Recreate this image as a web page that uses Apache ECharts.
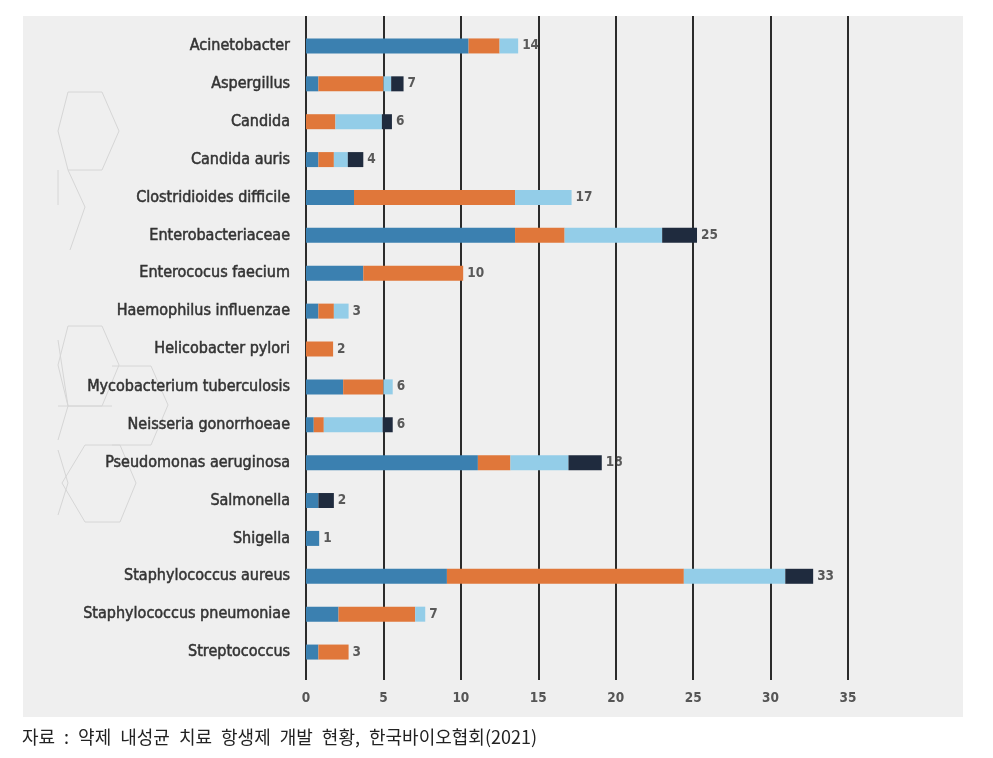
<!DOCTYPE html>
<html>
<head>
<meta charset="utf-8">
<script src="https://cdn.jsdelivr.net/npm/echarts@6/dist/echarts.min.js"></script>
<style>
html,body{margin:0;padding:0;background:#fff;}
#chart{width:993px;height:758px;}
</style>
</head>
<body>
<div id="chart"></div>
<script>
const categories = ['Acinetobacter','Aspergillus','Candida','Candida auris','Clostridioides difficile','Enterobacteriaceae','Enterococus faecium','Haemophilus influenzae','Helicobacter pylori','Mycobacterium tuberculosis','Neisseria gonorrhoeae','Pseudomonas aeruginosa','Salmonella','Shigella','Staphylococcus aureus','Staphylococcus pneumoniae','Streptococcus'];
const seriesBlue   = [10.5, 0.8, 0,    0.8, 3.1,  13.5, 3.7,  0.8, 0,    2.4, 0.5,  11.1, 0.8, 0.85, 9.1,  2.1,  0.8];
const seriesOrange = [2.0,  4.2, 1.9,  1.0, 10.4, 3.2,  6.45, 1.0, 1.75, 2.6, 0.65, 2.1,  0,   0,    15.3, 4.95, 1.95];
const seriesLight  = [1.2,  0.5, 3.0,  0.9, 3.65, 6.3,  0,    0.95,0,    0.6, 3.8,  3.75, 0,   0,    6.55, 0.65, 0];
const seriesDark   = [0,    0.8, 0.65, 1.0, 0,    2.25, 0,    0,   0,    0,   0.65, 2.15, 1.0, 0,    1.8,  0,    0];
const totals       = [14, 7, 6, 4, 17, 25, 10, 3, 2, 6, 6, 18, 2, 1, 33, 7, 3];
const xTicks = [0, 5, 10, 15, 20, 25, 30, 35];

const colors = ['#3b80b0', '#e0773a', '#93cde8', '#1f2b3e'];
const barEnds = categories.map((c, i) => [seriesBlue[i] + seriesOrange[i] + seriesLight[i] + seriesDark[i], i]);

// faint decorative hexagon outlines in the background
const hexLines = [
  [[68,92],[102,92],[119,131],[102,170],[68,170],[58,131],[68,92]],
  [[68,170],[85,207],[70,250]],
  [[58,170],[58,205]],
  [[68,326],[102,326],[119,365],[102,406],[68,406],[58,365],[68,326]],
  [[112,366],[151,366],[168,405],[151,445],[112,445]],
  [[85,445],[120,445],[136,483],[120,522],[85,522],[62,483],[85,445]],
  [[58,340],[68,406],[58,440]],
  [[58,450],[68,483],[58,515]],
  [[58,406],[112,406]]
];

const chart = echarts.init(document.getElementById('chart'), null, {renderer: 'canvas'});
const labelFont = "'DejaVu Sans Condensed', 'DejaVu Sans', sans-serif";

const mkBar = (name, data, color) => ({
  name, type: 'bar', stack: 'total', xAxisIndex: 0, yAxisIndex: 0,
  data, barWidth: 15, itemStyle: {color}, emphasis: {disabled: true}, z: 3
});

const footer = '자료 : 약제 내성균 치료 항생제 개발 현황, 한국바이오협회(2021)'.replace(/ /g, '\u2002');

chart.setOption({
  animation: false,
  graphic: {
    elements: [
      {type: 'rect', z: -100, shape: {x: 23, y: 16, width: 940, height: 701}, style: {fill: '#efefef'}, silent: true},
      {type: 'group', z: -90, silent: true, children: hexLines.map(pts => ({
        type: 'polyline', shape: {points: pts},
        style: {fill: 'none', stroke: '#d6d6d6', lineWidth: 1}
      }))},
      {type: 'text', left: 22, top: 728, style: {text: footer, font: "18px 'Noto Sans CJK KR'", fill: '#222'}}
    ]
  },
  grid: [
    {left: 306, width: 542, top: 27, height: 644},
    {left: 306, width: 542, top: 16, height: 664}
  ],
  xAxis: [
    {gridIndex: 0, type: 'value', min: 0, max: 35, show: false},
    {gridIndex: 1, type: 'value', min: 0, max: 35, interval: 5,
     axisLine: {show: false}, axisTick: {show: false},
     splitLine: {show: true, lineStyle: {color: '#2b2b2b', width: 2}},
     axisLabel: {margin: 11, color: '#555', fontSize: 13.5, fontFamily: labelFont, fontWeight: 'bold',
       formatter: v => xTicks.includes(v) ? String(v) : ''}}
  ],
  yAxis: [
    {gridIndex: 0, type: 'category', data: categories, inverse: true,
     axisLine: {show: false}, axisTick: {show: false}, splitLine: {show: false},
     axisLabel: {margin: 16, color: '#333', fontSize: 16, fontFamily: labelFont,
       textBorderColor: '#333', textBorderWidth: 0.5}},
    {gridIndex: 1, type: 'value', show: false}
  ],
  series: [
    mkBar('blue', seriesBlue, colors[0]),
    mkBar('orange', seriesOrange, colors[1]),
    mkBar('light', seriesLight, colors[2]),
    mkBar('dark', seriesDark, colors[3]),
    {type: 'scatter', xAxisIndex: 0, yAxisIndex: 0, data: barEnds, symbolSize: 0, z: 4,
     label: {show: true, position: 'right', distance: 4, color: '#333', fontSize: 13.5, fontWeight: 'bold', fontFamily: labelFont,
       formatter: p => String(totals[p.dataIndex])}}
  ]
});
</script>
</body>
</html>
